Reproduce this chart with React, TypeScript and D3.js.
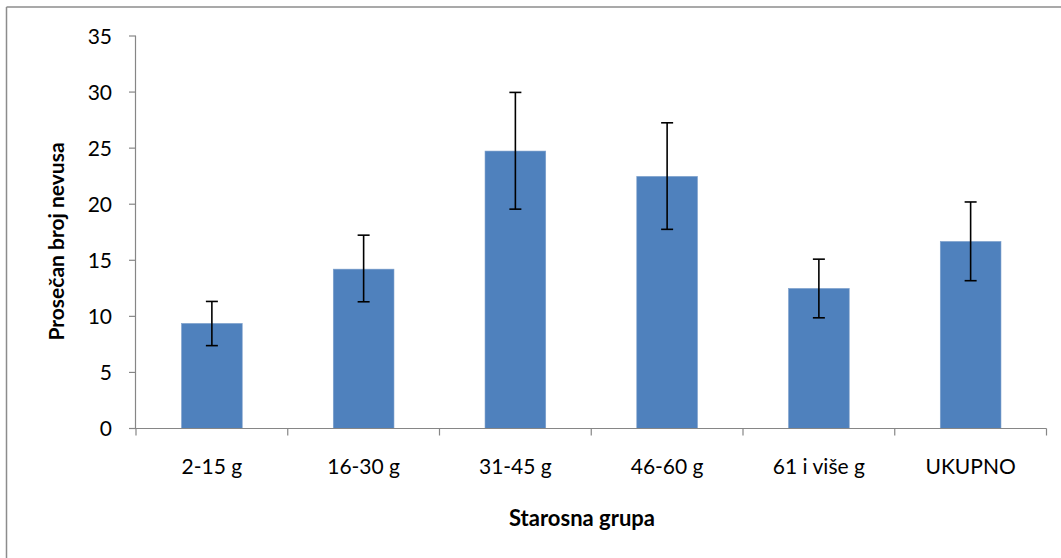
import React from "react";
import * as d3 from "d3";

const categories = ["2-15 g", "16-30 g", "31-45 g", "46-60 g", "61 i više g", "UKUPNO"];
const means = [9.37, 14.21, 24.74, 22.48, 12.49, 16.68];
const errUpper = [11.33, 17.24, 29.97, 27.26, 15.1, 20.2];
const errLower = [7.39, 11.3, 19.56, 17.76, 9.87, 13.18];
const yTicks = [0, 5, 10, 15, 20, 25, 30, 35];

const W = 1061;
const H = 558;
const margin = { left: 136, right: 1046.5, top: 36, bottom: 428.5 };
const FONT = "Lato, 'Open Sans', sans-serif";

export default function App() {
  const x = d3.scaleBand<string>().domain(categories).range([margin.left, margin.right]).paddingInner(0).paddingOuter(0);
  const y = d3.scaleLinear().domain([0, 35]).range([margin.bottom, margin.top]);
  const bw = x.bandwidth() * 0.4;
  const cap = 6;

  return (
    <svg width={W} height={H} style={{ position: "absolute", left: 0, top: 0, background: "#fff" }}>
      <rect x={0} y={0} width={W} height={H} fill="#fff" />
      <line x1={6.5} y1={7} x2={W} y2={7} stroke="#8c8c8c" strokeWidth={1.5} />
      <line x1={6.5} y1={7} x2={6.5} y2={H} stroke="#8c8c8c" strokeWidth={1.5} />

      {categories.map((c, i) => {
        const cx = (x(c) as number) + x.bandwidth() / 2;
        return (
          <g key={c}>
            <rect x={cx - bw / 2} y={y(means[i])} width={bw} height={y(0) - y(means[i])} fill="#4F81BD" stroke="#7ea0cc" strokeWidth={0.6} />
            <line x1={cx} x2={cx} y1={y(errUpper[i])} y2={y(errLower[i])} stroke="#000" strokeWidth={1.6} />
            <line x1={cx - cap} x2={cx + cap} y1={y(errUpper[i])} y2={y(errUpper[i])} stroke="#000" strokeWidth={1.6} />
            <line x1={cx - cap} x2={cx + cap} y1={y(errLower[i])} y2={y(errLower[i])} stroke="#000" strokeWidth={1.6} />
          </g>
        );
      })}

      {/* y axis */}
      <line x1={margin.left - 0.5} x2={margin.left - 0.5} y1={y(35)} y2={y(0)} stroke="#868686" strokeWidth={1.2} />
      {yTicks.map((t) => (
        <g key={t}>
          <line x1={margin.left - 7} x2={margin.left} y1={y(t)} y2={y(t)} stroke="#868686" strokeWidth={1.2} />
          <text x={112} y={y(t)} dy="0.36em" textAnchor="end" fontFamily={FONT} fontSize={21} fill="#000">
            {t}
          </text>
        </g>
      ))}

      {/* x axis */}
      <line x1={margin.left - 0.5} x2={margin.right} y1={y(0)} y2={y(0)} stroke="#868686" strokeWidth={1.2} />
      {[...categories.map((c) => x(c) as number), margin.right].map((tx, i) => (
        <line key={i} x1={tx} x2={tx} y1={y(0)} y2={y(0) + 7} stroke="#868686" strokeWidth={1.2} />
      ))}
      {categories.map((c) => (
        <text key={c} x={(x(c) as number) + x.bandwidth() / 2} y={474} textAnchor="middle" fontFamily={FONT} fontSize={21} fill="#000">
          {c}
        </text>
      ))}

      <text x={582} y={526} textAnchor="middle" fontFamily={FONT} fontSize={22} fontWeight="bold" fill="#000">
        Starosna grupa
      </text>
      <text
        transform={`translate(64, 241.5) rotate(-90)`}
        textAnchor="middle"
        fontFamily={FONT}
        fontSize={21}
        fontWeight="bold"
        fill="#000"
      >
        Prosečan broj nevusa
      </text>
    </svg>
  );
}
